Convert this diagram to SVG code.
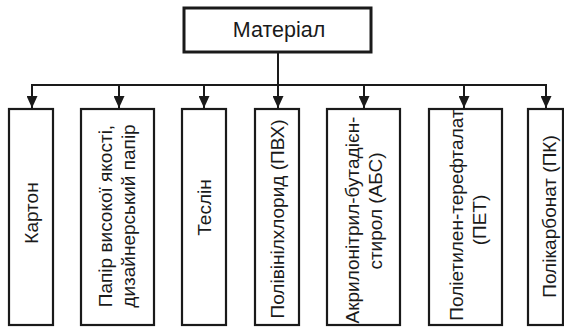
<svg xmlns="http://www.w3.org/2000/svg" width="564" height="327" viewBox="0 0 564 327">
<defs>
<style>
.box{fill:#fff;stroke:#1a1a1a;stroke-width:2.2}
.top{fill:#fff;stroke:#1a1a1a;stroke-width:3}
.t{font-family:"Liberation Sans",Arial,sans-serif;font-size:19px;fill:#1a1a1a;text-anchor:middle}
.ln{fill:none;stroke:#1a1a1a;stroke-width:2}
</style>
<marker id="ah" viewBox="0 0 12 11" refX="12" refY="5.5" markerWidth="12" markerHeight="11" markerUnits="userSpaceOnUse" orient="auto">
<path d="M0,0 L12,5.5 L0,11 Z" fill="#1a1a1a"/>
</marker>
</defs>
<rect width="564" height="327" fill="#fff"/>
<g id="connectors">
<line class="ln" x1="278" y1="52" x2="278" y2="85"/>
<line class="ln" x1="31" y1="85" x2="547" y2="85"/>
<line class="ln" x1="32" y1="85" x2="32" y2="108" marker-end="url(#ah)"/>
<line class="ln" x1="119" y1="85" x2="119" y2="108" marker-end="url(#ah)"/>
<line class="ln" x1="204" y1="85" x2="204" y2="108" marker-end="url(#ah)"/>
<line class="ln" x1="278" y1="85" x2="278" y2="108" marker-end="url(#ah)"/>
<line class="ln" x1="364" y1="85" x2="364" y2="108" marker-end="url(#ah)"/>
<line class="ln" x1="464" y1="85" x2="464" y2="108" marker-end="url(#ah)"/>
<line class="ln" x1="546" y1="85" x2="546" y2="108" marker-end="url(#ah)"/>
</g>
<g id="n0">
<rect class="top" x="184" y="8" width="187" height="44"/>
<text class="t" x="279" y="37" style="font-size:21.5px">Матеріал</text>
</g>
<g id="n1">
<rect class="box" x="9" y="109" width="44" height="216"/>
<text class="t" transform="translate(38,213) rotate(-90)">Картон</text>
</g>
<g id="n2">
<rect class="box" x="81" y="109" width="73" height="216"/>
<text class="t" transform="translate(112,216) rotate(-90)">Папір високої якості,</text>
<text class="t" transform="translate(135,216) rotate(-90)">дизайнерський папір</text>
</g>
<g id="n3">
<rect class="box" x="182" y="109" width="44" height="216"/>
<text class="t" transform="translate(211,207.5) rotate(-90)">Теслін</text>
</g>
<g id="n4">
<rect class="box" x="255" y="109" width="44" height="216"/>
<text class="t" transform="translate(284,219) rotate(-90)">Полівінілхлорид (ПВХ)</text>
</g>
<g id="n5">
<rect class="box" x="327" y="109" width="73" height="216"/>
<text class="t" transform="translate(359,220) rotate(-90)">Акрилонітрил-бутадієн-</text>
<text class="t" transform="translate(382,211) rotate(-90)">стирол (АБС)</text>
</g>
<g id="n6">
<rect class="box" x="429" y="109" width="73" height="216"/>
<text class="t" transform="translate(463,215) rotate(-90)">Поліетилен-терефталат</text>
<text class="t" transform="translate(486,220) rotate(-90)">(ПЕТ)</text>
</g>
<g id="n7">
<rect class="box" x="528" y="109" width="35" height="216"/>
<text class="t" transform="translate(556,216.5) rotate(-90)">Полікарбонат (ПК)</text>
</g>
</svg>
